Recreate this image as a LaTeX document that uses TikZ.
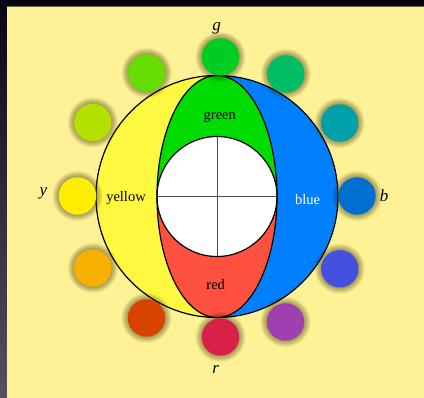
\documentclass[tikz,border=0pt]{standalone}
\usepackage{fontspec}
\setmainfont{Liberation Serif}
\definecolor{bgY}{RGB}{255,242,150}
\definecolor{frameTop}{RGB}{6,6,20}
\definecolor{frameBot}{RGB}{82,82,98}
\definecolor{oliveLine}{RGB}{110,102,62}
\definecolor{shadowC}{RGB}{40,34,0}
\definecolor{regY}{RGB}{255,248,64}
\definecolor{regG}{RGB}{0,220,0}
\definecolor{regB}{RGB}{0,128,255}
\definecolor{regR}{RGB}{255,80,64}
\definecolor{cG}{RGB}{0,204,34}
\definecolor{cGT}{RGB}{0,190,100}
\definecolor{cT}{RGB}{0,160,168}
\definecolor{cB}{RGB}{0,112,208}
\definecolor{cBV}{RGB}{68,80,224}
\definecolor{cP}{RGB}{160,64,176}
\definecolor{cR}{RGB}{216,32,72}
\definecolor{cOR}{RGB}{216,68,0}
\definecolor{cO}{RGB}{248,176,0}
\definecolor{cY}{RGB}{255,238,0}
\definecolor{cYG}{RGB}{180,224,0}
\definecolor{cLG}{RGB}{102,221,0}
\tikzset{
  dot/.style={circle, minimum size=37.4pt, inner sep=0pt, draw=none},
  rim/.style={draw=black, line width=1.2pt},
  cross/.style={draw=black!70, line width=0.8pt},
  inlabel/.style={font=\fontsize{14.5}{17}\selectfont, inner sep=0pt, anchor=base},
  axlabel/.style={font=\fontsize{17}{20}\selectfont\itshape, inner sep=0pt, anchor=base}
}
\begin{document}
\begin{tikzpicture}[x=1pt,y=-1pt]
\useasboundingbox (0,0) rectangle (424,398);
% frame
\shade[top color=frameTop, bottom color=frameBot] (0,0) rectangle (424,398);
\fill[frameTop] (0,0) rectangle (424,6);
\fill[bgY] (7,7) rectangle (424,398);
\draw[oliveLine, line width=1pt] (7,6.5) -- (424,6.5);
% big circle
\coordinate (C) at (217,196.5);
\begin{scope}
  \clip (C) circle[radius=121];
  \fill[regB] (C) circle[radius=121];
  \fill[regY] (90,70) rectangle (217,325);
\end{scope}
\begin{scope}
  \clip (C) ellipse[x radius=60, y radius=121];
  \fill[regG] (150,70) rectangle (285,196.5);
  \fill[regR] (150,196.5) rectangle (285,325);
\end{scope}
\fill[white] (C) circle[radius=60];
\draw[cross] (217,136.5) -- (217,256.5);
\draw[cross] (157,196.5) -- (277,196.5);
\draw[rim] (C) ellipse[x radius=60, y radius=121];
\draw[rim] (C) circle[radius=60];
\draw[rim] (C) circle[radius=121];
% small circles: soft glow shadows then discs
\foreach \n/\x/\y in {g/220.5/57, gt/285.8/74, t/339.7/123, b/357/196, bv/339.8/268.8, p/285.5/322, r/220.5/337, o/146.5/318, or/92.8/268, y/77.5/196, yg/92.8/122.5, lg/146.7/73}{
  \foreach \k in {1,...,14}{
    \fill[shadowC, opacity=0.035] (\x,\y) circle[radius=18.2+0.5*\k];
  }
}
\foreach \n/\x/\y/\c in {g/220.5/57/cG, gt/285.8/74/cGT, t/339.7/123/cT, b/357/196/cB, bv/339.8/268.8/cBV, p/285.5/322/cP, r/220.5/337/cR, o/146.5/318/cOR, or/92.8/268/cO, y/77.5/196/cY, yg/92.8/122.5/cYG, lg/146.7/73/cLG}{
  \node[dot, fill=\c] (c\n) at (\x,\y) {};
}
% labels
\node[inlabel] (lgreen) at (219.8,119.3) {green};
\node[inlabel] (lyellow) at (126,202) {yellow};
\node[inlabel, text=white] (lblue) at (307.5,204.3) {blue};
\node[inlabel] (lred) at (215.7,289.3) {red};
\node[axlabel] (ag) at (216.5,31) {g};
\node[axlabel] (ay) at (43.5,196) {y};
\node[axlabel] (ab) at (384,201.5) {b};
\node[axlabel] (ar) at (215.7,374) {r};
\end{tikzpicture}
\end{document}
